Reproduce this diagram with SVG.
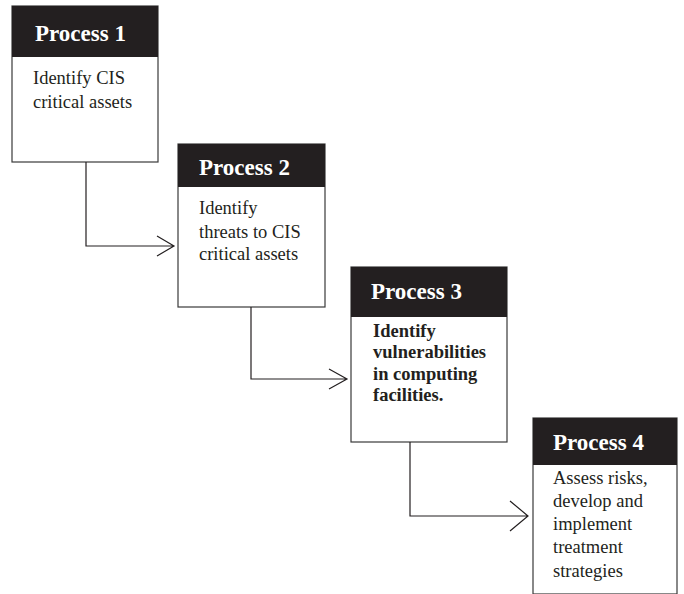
<svg xmlns="http://www.w3.org/2000/svg" width="684" height="594" viewBox="0 0 684 594">
<style>
.box{fill:#fff;stroke:#3a3a3a;stroke-width:1.2}
.hdr{fill:#231f20}
.title{font-family:"Liberation Serif","Times New Roman",serif;font-weight:bold;font-size:23px;fill:#fff}
.body{font-family:"Liberation Serif","Times New Roman",serif;font-size:18.5px;fill:#231f20}
.bold{font-weight:bold}
.conn{fill:none;stroke:#231f20;stroke-width:1.2}
</style>
<rect width="684" height="594" fill="#fff"/>
<g id="process1">
<rect class="box" x="12" y="6" width="146" height="156"/>
<rect class="hdr" x="12" y="6" width="146" height="51"/>
<text class="title" x="35" y="41">Process 1</text>
<text class="body" x="33" y="84">Identify CIS</text>
<text class="body" x="33" y="108">critical assets</text>
</g>
<g id="process2">
<rect class="box" x="178" y="144" width="147" height="163"/>
<rect class="hdr" x="178" y="144" width="147" height="43"/>
<text class="title" x="199" y="175">Process 2</text>
<text class="body" x="199" y="214">Identify</text>
<text class="body" x="199" y="238">threats to CIS</text>
<text class="body" x="199" y="260">critical assets</text>
</g>
<g id="process3">
<rect class="box" x="351" y="267" width="156" height="175"/>
<rect class="hdr" x="351" y="267" width="156" height="50"/>
<text class="title" x="371" y="299">Process 3</text>
<text class="body bold" x="373" y="337">Identify</text>
<text class="body bold" x="373" y="358">vulnerabilities</text>
<text class="body bold" x="373" y="380">in computing</text>
<text class="body bold" x="373" y="401">facilities.</text>
</g>
<g id="process4">
<rect class="box" x="533" y="418" width="144" height="176"/>
<rect class="hdr" x="533" y="418" width="144" height="47"/>
<text class="title" x="553" y="450">Process 4</text>
<text class="body" x="553" y="484">Assess risks,</text>
<text class="body" x="553" y="507">develop and</text>
<text class="body" x="553" y="530">implement</text>
<text class="body" x="553" y="553">treatment</text>
<text class="body" x="553" y="577">strategies</text>
</g>
<g id="connectors">
<path class="conn" d="M86 162 V246 H174 M157 236 L174 246 L157 256"/>
<path class="conn" d="M251 307 V379 H347 M329 369 L347 379 L329 389"/>
<path class="conn" d="M410 442 V516 H528 M510 501 L528 516 L510 531"/>
</g>
</svg>
